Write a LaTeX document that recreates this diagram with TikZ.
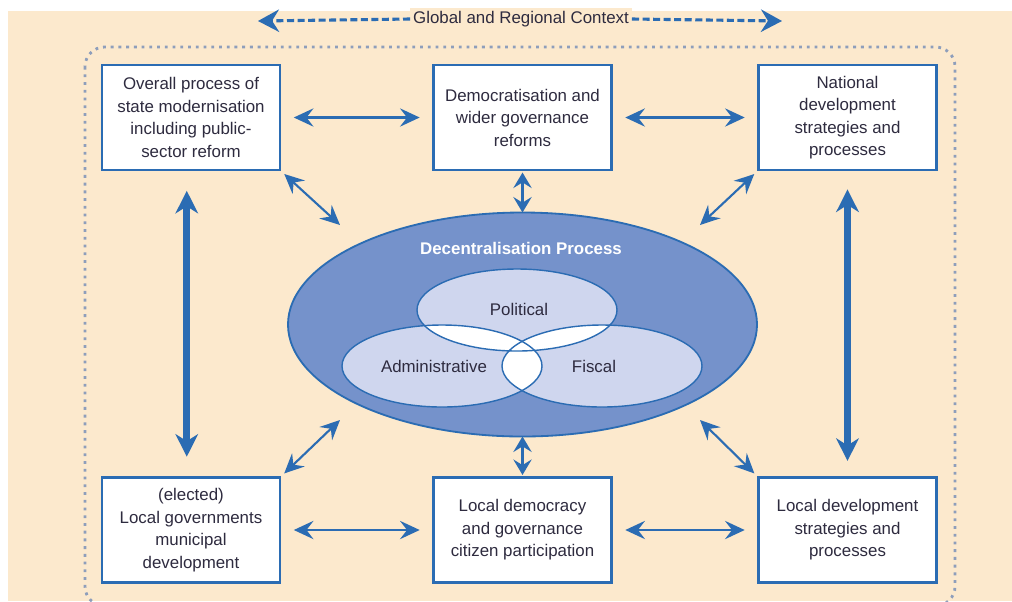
\documentclass[tikz,border=0pt]{standalone}
\usepackage{fontspec}
\setmainfont{Liberation Sans}
\usetikzlibrary{arrows.meta}

\definecolor{paper}{HTML}{FCE9CD}
\definecolor{linkblue}{HTML}{2B6CB3}
\definecolor{procblue}{HTML}{7592CB}
\definecolor{lavender}{HTML}{CFD6EE}
\definecolor{dotgray}{HTML}{8E9EBB}
\definecolor{ink}{HTML}{2E2B3F}

\tikzset{
  box/.style={draw=linkblue, line width=1.6pt, fill=white, align=center,
    minimum width=4.45cm, minimum height=2.625cm, inner sep=2pt,
    text=ink, font=\fontsize{12}{16}\selectfont},
  link/.style={linkblue, line width=1.5pt,
    {Stealth[length=14pt,width=13pt,inset=5pt]}-{Stealth[length=14pt,width=13pt,inset=5pt]}},
  biglink/.style={linkblue, line width=5pt,
    {Stealth[length=16pt,width=16pt,inset=5pt]}-{Stealth[length=16pt,width=16pt,inset=5pt]}},
  shortlink/.style={linkblue, line width=2pt,
    {Stealth[length=11pt,width=13pt,inset=4pt]}-{Stealth[length=11pt,width=13pt,inset=4pt]}},
  ctx/.style={linkblue, line width=2.2pt, dash pattern=on 5pt off 2.5pt,
    -{Stealth[length=15pt,width=16pt,inset=5pt]}},
  dim/.style={fill=lavender},
  venn/.style={draw=linkblue, line width=1pt},
  lbl/.style={text=ink, font=\fontsize{12}{14}\selectfont}
}

\begin{document}
\begin{tikzpicture}[x=0.025cm, y=-0.025cm]
  \useasboundingbox (0,0) rectangle (1012,601);

  % Paper background
  \fill[paper] (8,11) rectangle (1012,601);

  % Dotted frame around the national setting
  \draw[dotgray, line width=2pt, dash pattern=on 2pt off 3.5pt, rounded corners=14pt]
    (85,47) rectangle (955,606);

  % Global and regional context
  \node[lbl, fill=paper, inner sep=2pt] (ctx) at (521,19) {Global and Regional Context};
  \coordinate (ctxW) at (258,21);
  \coordinate (ctxE) at (782,21);
  \draw[ctx] (ctx.west) -- (ctxW);
  \draw[ctx] (ctx.east) -- (ctxE);

  % Surrounding boxes
  \node[box] (tl) at (191,117.5) {Overall process of\\state modernisation\\including public-\\sector reform};
  \node[box] (tm) at (522.5,117.5) {Democratisation and\\wider governance\\reforms};
  \node[box] (tr) at (847.5,117.5) {National\\development\\strategies and\\processes};
  \node[box] (bl) at (191,530) {(elected)\\Local governments\\municipal\\development};
  \node[box] (bm) at (522.5,530) {Local democracy\\and governance\\citizen participation};
  \node[box] (br) at (847.5,530) {Local development\\strategies and\\processes};

  % Decentralisation process
  \draw[linkblue, line width=1.3pt, fill=procblue] (522.5,324.5) ellipse [x radius=234.5, y radius=112];
  \node[text=white, font=\bfseries\fontsize{12}{14}\selectfont] (dp) at (521,248) {Decentralisation Process};
  \coordinate (dpN) at (522.5,212.5);
  \coordinate (dpS) at (522.5,436.5);

  % Three dimensions, overlaps left white
  \fill[dim] (517,310) ellipse [x radius=100, y radius=41];
  \fill[dim] (442,366) ellipse [x radius=100, y radius=41];
  \fill[dim] (602,366) ellipse [x radius=100, y radius=41];
  \begin{scope}
    \clip (517,310) ellipse [x radius=100, y radius=41];
    \fill[white] (442,366) ellipse [x radius=100, y radius=41];
    \fill[white] (602,366) ellipse [x radius=100, y radius=41];
  \end{scope}
  \begin{scope}
    \clip (442,366) ellipse [x radius=100, y radius=41];
    \fill[white] (602,366) ellipse [x radius=100, y radius=41];
  \end{scope}
  \draw[venn] (517,310) ellipse [x radius=100, y radius=41];
  \draw[venn] (442,366) ellipse [x radius=100, y radius=41];
  \draw[venn] (602,366) ellipse [x radius=100, y radius=41];
  \node[lbl] (pol) at (519,309) {Political};
  \node[lbl] (adm) at (434,366) {Administrative};
  \node[lbl] (fis) at (594,366) {Fiscal};

  % Links between boxes
  \draw[link, shorten <=9pt, shorten >=9pt] (tl.east) -- (tm.west);
  \draw[link, shorten <=9pt, shorten >=9pt] (tm.east) -- (tr.west);
  \draw[link, shorten <=9pt, shorten >=9pt] (bl.east) -- (bm.west);
  \draw[link, shorten <=9pt, shorten >=9pt] (bm.east) -- (br.west);
  \draw[biglink, shorten <=14pt, shorten >=14pt] ([xshift=-3pt]tl.south) -- ([xshift=-3pt]bl.north);
  \draw[biglink, shorten <=13pt, shorten >=11pt] (tr.south) -- (br.north);

  % Links into the decentralisation process
  \coordinate (dTL) at (340,225);
  \coordinate (dTR) at (700,225);
  \coordinate (dBL) at (340,420);
  \coordinate (dBR) at (700,420);
  \draw[link, shorten <=3pt] (tl.south east) -- (dTL);
  \draw[link, shorten <=3pt] (tr.south west) -- (dTR);
  \draw[link, shorten <=3pt] (bl.north east) -- (dBL);
  \draw[link, shorten <=3pt] (br.north west) -- (dBR);
  \draw[shortlink, shorten <=1pt] (tm.south) -- (dpN);
  \draw[shortlink, shorten >=1pt] (dpS) -- (bm.north);
\end{tikzpicture}
\end{document}
